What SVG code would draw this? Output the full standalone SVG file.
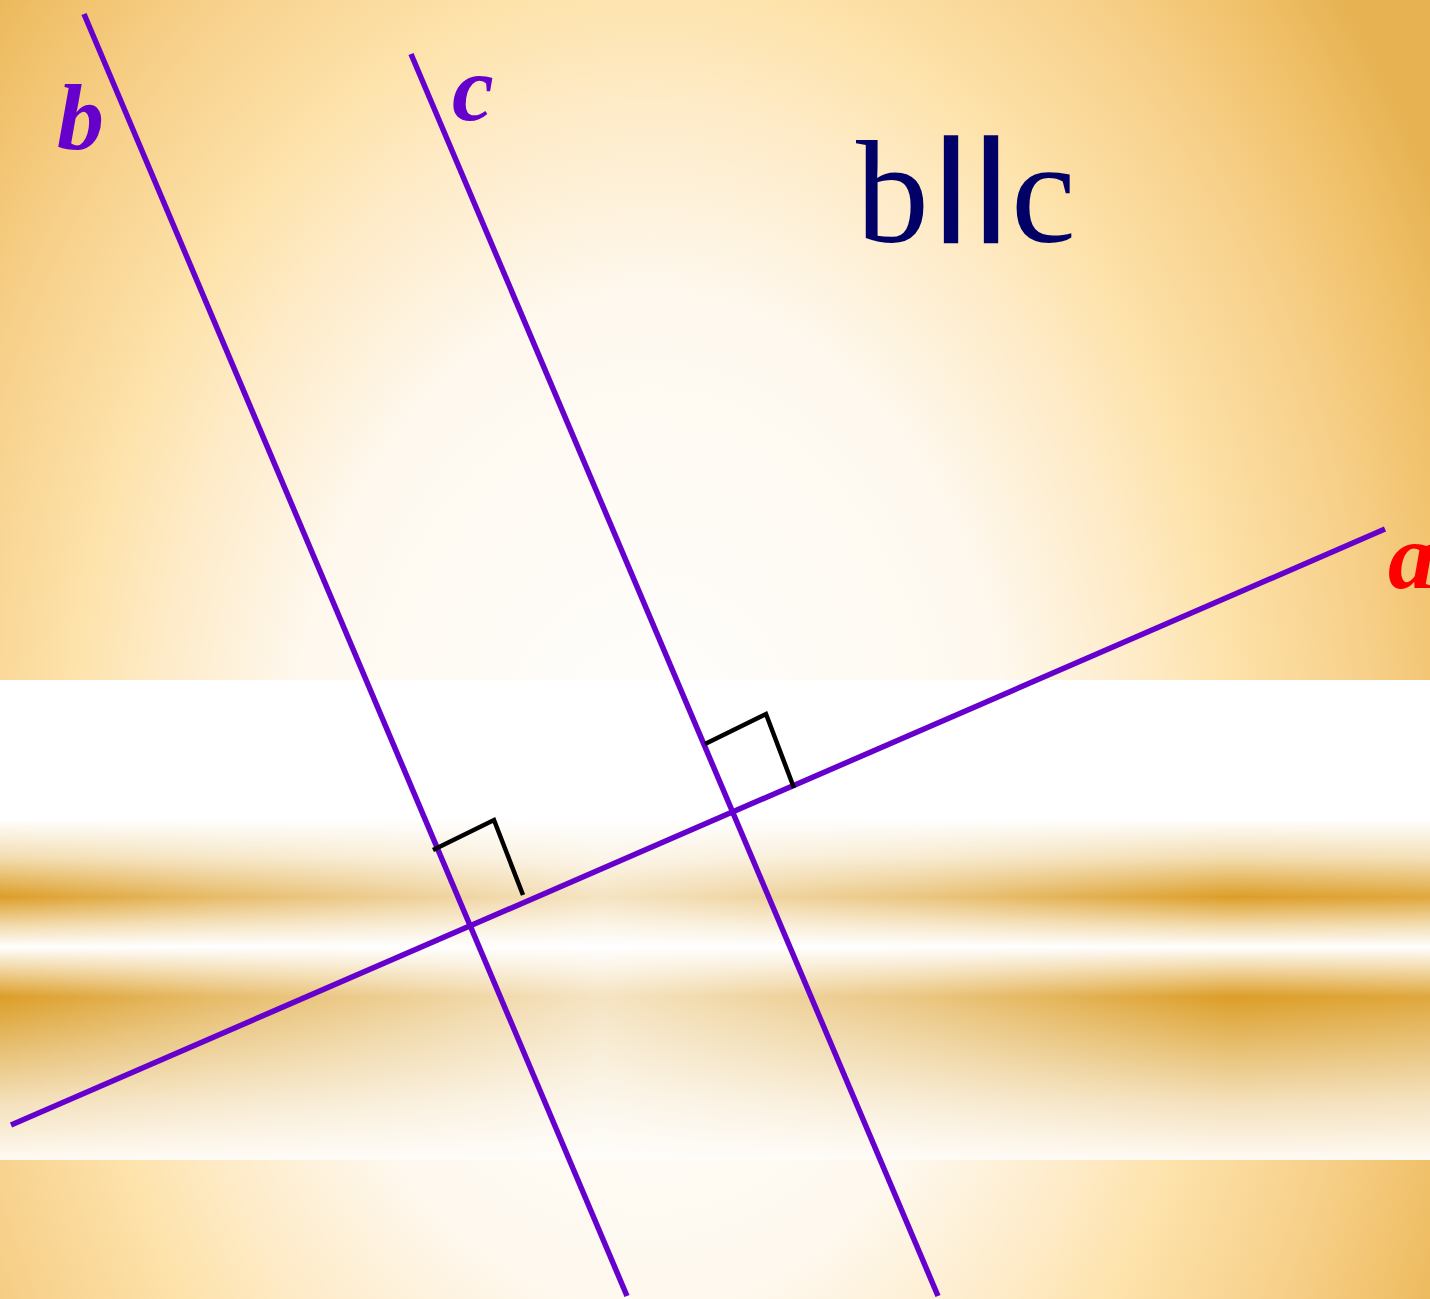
<svg xmlns="http://www.w3.org/2000/svg" width="1430" height="1299" viewBox="0 0 1430 1299">
<defs>
<radialGradient id="bg" gradientUnits="userSpaceOnUse" cx="650" cy="800" r="900" fx="650" fy="800" gradientTransform="translate(650 800) scale(1 1.4) translate(-650 -800)">
<stop offset="0" stop-color="#FFFFFF"/>
<stop offset="0.4" stop-color="#FEF8EE"/>
<stop offset="0.55" stop-color="#FEEBC8"/>
<stop offset="0.65" stop-color="#FDE2AA"/>
<stop offset="0.8" stop-color="#F7D08A"/>
<stop offset="0.92" stop-color="#F0C068"/>
<stop offset="1" stop-color="#E6B252"/>
</radialGradient>
<linearGradient id="band" gradientUnits="userSpaceOnUse" x1="0" y1="680" x2="0" y2="1160">
<stop offset="0" stop-color="#FFFFFF"/>
<stop offset="0.29" stop-color="#FFFFFF"/>
<stop offset="0.37" stop-color="#F3DDB0"/>
<stop offset="0.452" stop-color="#DC9E28"/>
<stop offset="0.51" stop-color="#F2D9A8"/>
<stop offset="0.556" stop-color="#FFFFFF"/>
<stop offset="0.6" stop-color="#F2D8A6"/>
<stop offset="0.66" stop-color="#DC9E28"/>
<stop offset="0.76" stop-color="#E6BD6C"/>
<stop offset="0.88" stop-color="#F4E0BA"/>
<stop offset="1" stop-color="#FFFAF3"/>
</linearGradient>
<linearGradient id="bandFade" gradientUnits="userSpaceOnUse" x1="0" y1="0" x2="1430" y2="0">
<stop offset="0" stop-color="#FFFFFF" stop-opacity="0"/>
<stop offset="0.15" stop-color="#FFFFFF" stop-opacity="0.3"/>
<stop offset="0.42" stop-color="#FFFFFF" stop-opacity="0.72"/>
<stop offset="0.65" stop-color="#FFFFFF" stop-opacity="0.4"/>
<stop offset="0.86" stop-color="#FFFFFF" stop-opacity="0"/>
<stop offset="1" stop-color="#FFFFFF" stop-opacity="0.1"/>
</linearGradient>
</defs>
<style>
.ln{stroke:#6600CC;stroke-width:5.5;fill:none}
.ra{stroke:#000000;stroke-width:4.5;fill:none;stroke-linejoin:miter}
.lab{font-family:"Liberation Serif","Times New Roman",serif;font-style:italic;font-weight:bold;font-size:94px}
.rel{font-family:"Liberation Serif","Times New Roman",serif;font-size:146px;fill:#000066}
.bars{font-family:"Liberation Sans",Arial,sans-serif;stroke:#000066;stroke-width:1.5}
</style>
<rect id="background" x="0" y="0" width="1430" height="1299" fill="url(#bg)"/>
<rect id="band-base" x="0" y="680" width="1430" height="480" fill="url(#band)"/>
<rect id="band-fade" x="0" y="680" width="1430" height="480" fill="url(#bandFade)"/>
<g id="connectors">
<line id="line-b" class="ln" x1="84" y1="14" x2="627" y2="1296"/>
<line id="line-c" class="ln" x1="411" y1="54" x2="938" y2="1296"/>
<line id="line-a" class="ln" x1="11" y1="1125" x2="1385" y2="529"/>
</g>
<g id="right-angle-1"><polyline class="ra" points="433,850 494,820 523,895"/></g>
<g id="right-angle-2"><polyline class="ra" points="705,744 766,714 794,788"/></g>
<g id="label-b"><text class="lab" x="57" y="149" fill="#6600CC">b</text></g>
<g id="label-c"><text class="lab" x="452" y="120" fill="#6600CC">c</text></g>
<g id="label-a"><text class="lab" x="1388" y="588" fill="#FF0000">a</text></g>
<g id="relation"><text class="rel" y="242"><tspan x="856">b</tspan><tspan class="bars" x="934.75 974.75">ll</tspan><tspan x="1011">c</tspan></text></g>
</svg>
